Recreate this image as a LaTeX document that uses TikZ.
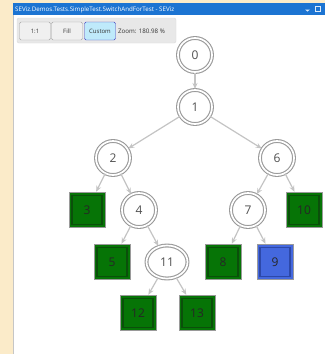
\documentclass[tikz,border=0pt]{standalone}
\usepackage{fontspec}
\setmainfont{Open Sans}
\usetikzlibrary{arrows.meta,shapes.geometric}
\definecolor{beige}{HTML}{FBEBC9}
\definecolor{titleblue}{HTML}{1C74D2}
\definecolor{edgegray}{HTML}{C4C4C4}
\definecolor{ringgray}{HTML}{9A9A9A}
\definecolor{nodegreen}{HTML}{067406}
\definecolor{innergreen}{HTML}{0B4F0B}
\definecolor{nodeblue}{HTML}{4468DE}
\definecolor{innerblue}{HTML}{2D48A8}
\definecolor{labelgray}{HTML}{505050}
\tikzset{
  x=1pt, y=-1pt,
  state/.style={circle, draw=ringgray, line width=1.1pt, double=white, double distance=1.7pt,
    fill=white, minimum size=34pt, inner sep=0pt, text=labelgray, font=\fontsize{12}{12}\selectfont},
  ellstate/.style={state, ellipse, minimum width=41pt, minimum height=33pt},
  leaf/.style={rectangle, draw=ringgray, line width=0.6pt, fill=#1, minimum width=36pt, minimum height=35pt,
    inner sep=0pt, text=black!85, font=\fontsize{12}{12}\selectfont,
    path picture={\draw[inner#1, line width=1.1pt]
      ([shift={(3pt,-3pt)}]path picture bounding box.north west) rectangle
      ([shift={(-3pt,3pt)}]path picture bounding box.south east);}},
  edge/.style={draw=edgegray, line width=1.2pt, -{Stealth[length=6pt,width=5pt]}, shorten >=0.5pt},
  btn/.style={rectangle, draw=gray!70, fill=gray!12, rounded corners=1.5pt, minimum width=31pt,
    minimum height=18pt, inner sep=0pt, font=\fontsize{6}{6}\selectfont, text=black!80}
}
\colorlet{innernodegreen}{innergreen}
\colorlet{innernodeblue}{innerblue}
\begin{document}
\begin{tikzpicture}
\useasboundingbox (0,0) rectangle (325,354);
% background
\fill[beige] (0,0) rectangle (325,354);
\fill[white] (13,3) rectangle (325,354);
\draw[gray!45, line width=0.8pt] (13,3) -- (13,354);
\fill[titleblue] (13,3) rectangle (325,15);
\node[anchor=west, text=white, font=\fontsize{6.2}{6.5}\selectfont, inner sep=0pt] (title) at (15,9.5)
  {SEViz.Demos.Tests.SimpleTest.SwitchAndForTest - SEViz};
\fill[white!85!titleblue] (305,9.5) -- (310,9.5) -- (307.5,11.5) -- cycle;
\draw[white!85!titleblue, line width=0.8pt] (315,6.5) rectangle (320,11.5);
% toolbar
\fill[gray!18, rounded corners=2pt] (17,18) rectangle (176,43);
\draw[gray!30, rounded corners=2pt] (17,18) rectangle (176,43);
\node[btn] (b1) at (35,31) {1:1};
\node[btn] (b2) at (67,31) {Fill};
\node[btn, fill=cyan!25, draw=blue!50!gray] (b3) at (100,31) {Custom};
\node[anchor=west, font=\fontsize{6.2}{6.5}\selectfont, text=black!80, inner sep=0pt] (zoom) at (118,31) {Zoom: 180.98 \%};
% nodes
\node[state] (n0) at (195,55) {0};
\node[state] (n1) at (195,107) {1};
\node[state] (n2) at (113,158) {2};
\node[state] (n6) at (277,158) {6};
\node[leaf=nodegreen] (n3) at (87,210) {3};
\node[state] (n4) at (139,210) {4};
\node[state] (n7) at (248,210) {7};
\node[leaf=nodegreen] (n10) at (304,210) {10};
\node[leaf=nodegreen] (n5) at (112,262) {5};
\node[ellstate] (n11) at (167,262) {11};
\node[leaf=nodegreen] (n8) at (223,262) {8};
\node[leaf=nodeblue] (n9) at (275,262) {9};
\node[leaf=nodegreen] (n12) at (138,313) {12};
\node[leaf=nodegreen] (n13) at (197,313) {13};
% edges
\draw[edge] (n0) -- (n1);
\draw[edge] (n1) -- (n2);
\draw[edge] (n1) -- (n6);
\draw[edge] (n2) -- (n3);
\draw[edge] (n2) -- (n4);
\draw[edge] (n6) -- (n7);
\draw[edge] (n6) -- (n10);
\draw[edge] (n4) -- (n5);
\draw[edge] (n4) -- (n11);
\draw[edge] (n7) -- (n8);
\draw[edge] (n7) -- (n9);
\draw[edge] (n11) -- (n12);
\draw[edge] (n11) -- (n13);
\end{tikzpicture}
\end{document}
